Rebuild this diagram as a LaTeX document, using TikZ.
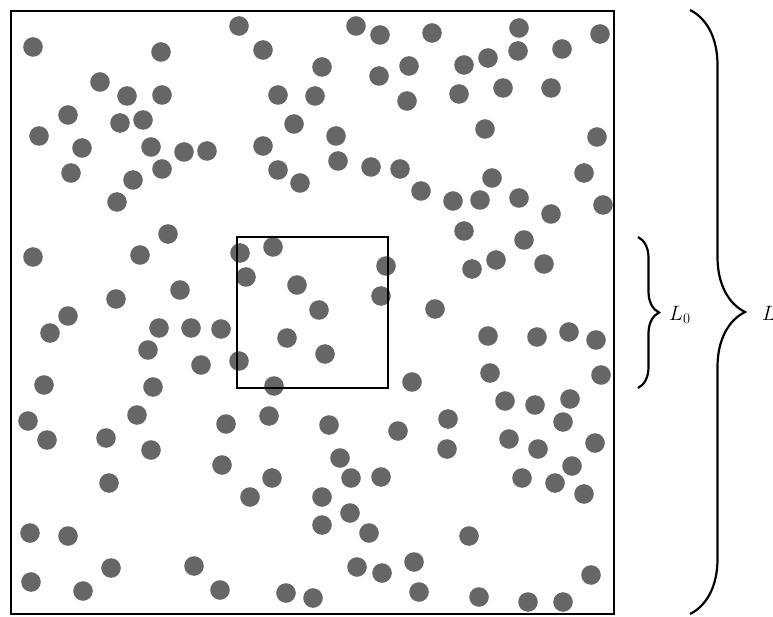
\documentclass[tikz,border=0pt]{standalone}
\usetikzlibrary{decorations.pathreplacing}
\definecolor{dotgray}{RGB}{102,102,102}
\begin{document}
\begin{tikzpicture}[x=1pt,y=-1pt,
  particle/.style={fill=dotgray},
  outerbox/.style={draw=black,line width=2.6pt},
  innerbox/.style={draw=black,line width=2pt},
  bracestyle/.style={draw=black,line width=2.2pt,decorate,decoration={brace,amplitude=#1}},
  lbl/.style={anchor=base west,inner sep=0pt,font=\fontsize{20}{24}\selectfont}]
\useasboundingbox (0,0) rectangle (773,617);
\foreach \x/\y in {
33/47,161/52,239/26,263/50,322/67,100/82,127/96,162/95,278/95,315/96,
68/115,120/123,143/120,294/124,39/136,82/148,151/147,184/152,207/151,263/146,
71/173,162/169,133/180,278/170,300/183,117/202,168/234,33/257,140/255,240/253,
273/247,246/277,297/285,180/290,116/299,68/316,319/310,
356/26,380/35,432/33,519/28,600/34,379/76,409/66,464/65,488/58,518/51,562/49,
407/101,459/94,503/88,551/88,336/136,485/129,597/137,338/161,371/167,400/169,
421/191,453/201,480/200,492/178,519/198,584/173,551/214,603/205,464/231,524/240,
386/266,472/269,496/260,544/264,381/296,435/309,
50/333,159/328,191/328,221/329,148/350,201/365,239/361,287/338,325/354,44/385,
153/387,274/386,28/421,47/440,137/415,226/424,269/416,106/438,151/450,222/465,
272/478,250/497,109/483,322/497,322/525,30/533,68/536,111/568,194/566,31/582,
83/591,220/590,286/593,313/598,
412/382,488/336,537/337,569/332,596/340,490/373,601/375,505/401,535/405,570/399,
563/422,329/425,398/431,448/419,447/449,509/439,538/449,595/443,340/458,351/478,
381/477,522/478,555/483,572/466,584/494,350/513,369/533,469/536,357/567,382/573,
414/562,591/575,419/592,479/597,528/602,563/602}
  \fill[particle] (\x,\y) circle[radius=9.8];
\coordinate (OA) at (11,11);
\coordinate (OB) at (614,614);
\coordinate (IA) at (236.5,237);
\coordinate (IB) at (388,388);
\path[outerbox] (OA) rectangle (OB);
\path[innerbox] (IA) rectangle (IB);
\coordinate (sbT) at (638,237);
\coordinate (sbB) at (638,388);
\coordinate (bbT) at (690,10);
\coordinate (bbB) at (690,614);
\path[bracestyle=21] (sbT) -- (sbB);
\path[bracestyle=55] (bbT) -- (bbB);
\node[lbl] (l0) at (669,320) {$L_0$};
\node[lbl] (l) at (762,320) {$L$};
\end{tikzpicture}
\end{document}
